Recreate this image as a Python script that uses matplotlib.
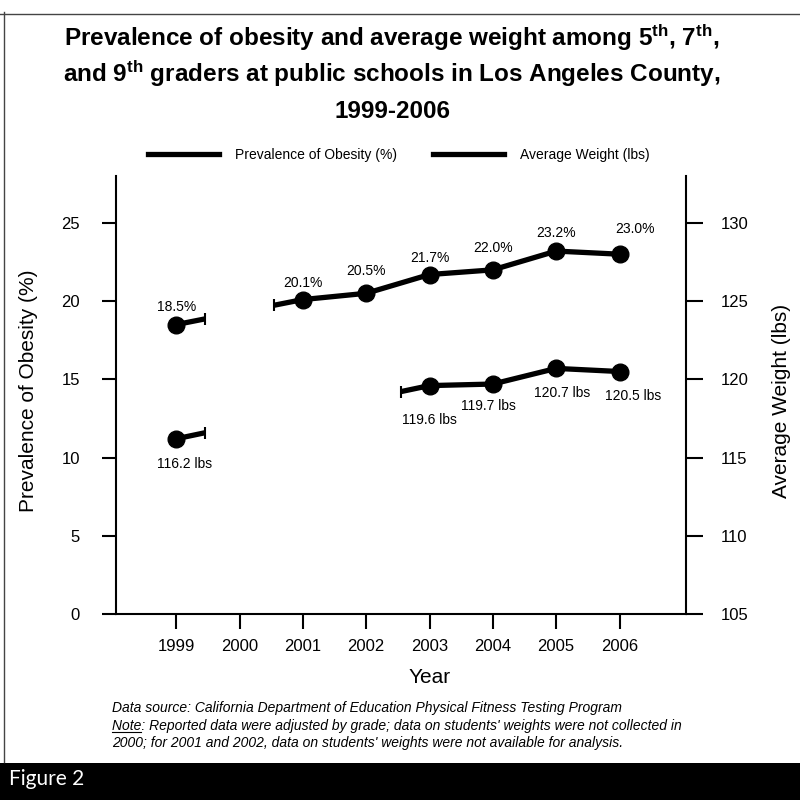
import matplotlib
matplotlib.use('Agg')
import matplotlib.pyplot as plt
import numpy as np
from matplotlib.lines import Line2D
from matplotlib.patches import Rectangle

plt.rcParams['font.family'] = ['Liberation Sans', 'DejaVu Sans']
plt.rcParams['mathtext.fontset'] = 'custom'
plt.rcParams['mathtext.rm'] = 'Liberation Sans:bold'
plt.rcParams['mathtext.it'] = 'Liberation Sans:bold'
plt.rcParams['mathtext.bf'] = 'Liberation Sans:bold'

# data (nan = not available)
years = [1999, 2000, 2001, 2002, 2003, 2004, 2005, 2006]
obesity = [18.5, np.nan, 20.1, 20.5, 21.7, 22.0, 23.2, 23.0]
weight = [116.2, np.nan, np.nan, np.nan, 119.6, 119.7, 120.7, 120.5]

pct_ticks = [0, 5, 10, 15, 20, 25]
lbs_ticks = [105, 110, 115, 120, 125, 130]

# label offsets in pixels (dx, dy), layout only
obesity_offsets = [(0, 18), (0, 17), (0, 22), (0, 17), (0, 22), (0, 18), (16, 25)]
weight_offsets = [(8, -25), (0, -34), (-4, -22), (6, -25), (14, -24)]

LW = 3.8
MS = 12


def draw_series(ax, x, y, stub=0.45):
    x = np.asarray(x, float)
    y = np.asarray(y, float)
    ok = ~np.isnan(y)
    xs, ys = x[ok], y[ok]
    ends_x, ends_y = [], []
    run_x, run_y = [xs[0]], [ys[0]]
    for i in range(1, len(xs)):
        if xs[i] - xs[i - 1] > 1:
            # gap: draw short stubs toward the next known point
            sx = xs[i - 1] + stub
            run_x.append(sx)
            run_y.append(np.interp(sx, xs, ys))
            ends_x.append(sx)
            ends_y.append(run_y[-1])
            ax.plot(run_x, run_y, color='black', lw=LW, solid_capstyle='butt', clip_on=False)
            sx = xs[i] - stub
            run_x, run_y = [sx], [np.interp(sx, xs, ys)]
            ends_x.append(sx)
            ends_y.append(run_y[-1])
        run_x.append(xs[i])
        run_y.append(ys[i])
    ax.plot(run_x, run_y, color='black', lw=LW, solid_capstyle='butt', clip_on=False)
    ax.plot(xs, ys, 'o', color='black', ms=MS, clip_on=False)
    ax.plot(ends_x, ends_y, '|', color='black', ms=9, mew=1.5, clip_on=False)
    return xs, ys


fig = plt.figure(figsize=(8, 8.08), dpi=100)
ax = fig.add_axes([0.145, 0.2401, 0.7125, 0.5421])
ax2 = ax.twinx()

xo, yo = draw_series(ax, years, obesity)
xw, yw = draw_series(ax2, years, weight)

for (xv, yv), (dx, dy) in zip(zip(xo, yo), obesity_offsets):
    ax.annotate(f'{yv:.1f}%', (xv, yv), xytext=(dx * 0.72, dy * 0.72),
                textcoords='offset points', ha='center', va='center', fontsize=10)
for (xv, yv), (dx, dy) in zip(zip(xw, yw), weight_offsets):
    ax2.annotate(f'{yv:.1f} lbs', (xv, yv), xytext=(dx * 0.72, dy * 0.72),
                 textcoords='offset points', ha='center', va='center', fontsize=10)

ax.set_xlim(1998.05, 2007.05)
ax.set_ylim(0, 28)
ax2.set_ylim(105, 133)
ax.set_xticks(years)
ax.set_yticks(pct_ticks)
ax2.set_yticks(lbs_ticks)

for s in ['top', 'right']:
    ax.spines[s].set_visible(False)
for s in ['top', 'left', 'bottom']:
    ax2.spines[s].set_visible(False)
for s in ['left', 'bottom']:
    ax.spines[s].set_linewidth(1.5)
ax2.spines['right'].set_linewidth(1.5)

ax.tick_params(axis='y', direction='out', length=10, width=1.5, pad=16, labelsize=12)
ax.tick_params(axis='x', direction='out', length=11, width=1.5, pad=7, labelsize=12)
ax2.tick_params(axis='y', direction='out', length=12, width=1.5, pad=13, labelsize=12)

ax.set_xlabel('Year', fontsize=15)
ax.xaxis.set_label_coords(0.551, -0.123)
ax.set_ylabel('Prevalence of Obesity (%)', fontsize=15)
ax.yaxis.set_label_coords(-0.137, 0.51)
ax2.set_ylabel('Average Weight (lbs)', fontsize=15, rotation=90)
ax2.yaxis.set_label_coords(1.151, 0.486)

# title, one text per line
title_lines = [r'Prevalence of obesity and average weight among 5$^{th}$, 7$^{th}$,',
               r'and 9$^{th}$ graders at public schools in Los Angeles County,',
               '1999-2006']
for line, yb in zip(title_lines, [0.9431, 0.8985, 0.8540]):
    fig.text(0.49, yb, line, ha='center', va='baseline', fontsize=17.5, fontweight='bold')

# legend
handles = [Line2D([], [], color='black', lw=LW), Line2D([], [], color='black', lw=LW)]
fig.legend(handles, ['Prevalence of Obesity (%)', 'Average Weight (lbs)'],
           loc='center left', bbox_to_anchor=(0.185, 0.808), ncol=2, frameon=False,
           fontsize=10, handlelength=5.1, handletextpad=1.15, columnspacing=2.6,
           borderpad=0, borderaxespad=0)

# footnote
fx = 0.14
foot = ['Data source: California Department of Education Physical Fitness Testing Program',
        "Note: Reported data were adjusted by grade; data on students' weights were not collected in",
        "2000; for 2001 and 2002, data on students' weights were not available for analysis."]
foot_y = [1 - 712 / 808, 1 - 730 / 808, 1 - 747 / 808]
for line, yb in zip(foot, foot_y):
    fig.text(fx, yb, line, ha='left', va='baseline', fontsize=10, style='italic')

fig.canvas.draw()
r = fig.canvas.get_renderer()
tmp = fig.text(fx, foot_y[1], 'Note', ha='left', va='baseline', fontsize=10, style='italic')
bb = tmp.get_window_extent(r)
tmp.remove()
W, H = fig.bbox.width, fig.bbox.height
uy = foot_y[1] - 2 / H
fig.add_artist(Line2D([bb.x0 / W, bb.x1 / W], [uy, uy], transform=fig.transFigure,
                      color='black', lw=0.8))

# page frame and figure banner
fig.add_artist(Line2D([4 / W, 4 / W], [1 - 12 / H, 1 - 762 / H], transform=fig.transFigure,
                      color='#444444', lw=1))
fig.add_artist(Line2D([0, 1], [1 - 14 / H, 1 - 14 / H], transform=fig.transFigure,
                      color='#444444', lw=1))
fig.add_artist(Rectangle((0, 1 - 800 / H), 1, 37 / H, transform=fig.transFigure,
                         facecolor='black', edgecolor='none'))
fig.text(9 / W, 1 - 779 / H, 'Figure 2', color='white', fontsize=15, family='Lato',
         ha='left', va='center')

fig.savefig('out.png', dpi=100)
